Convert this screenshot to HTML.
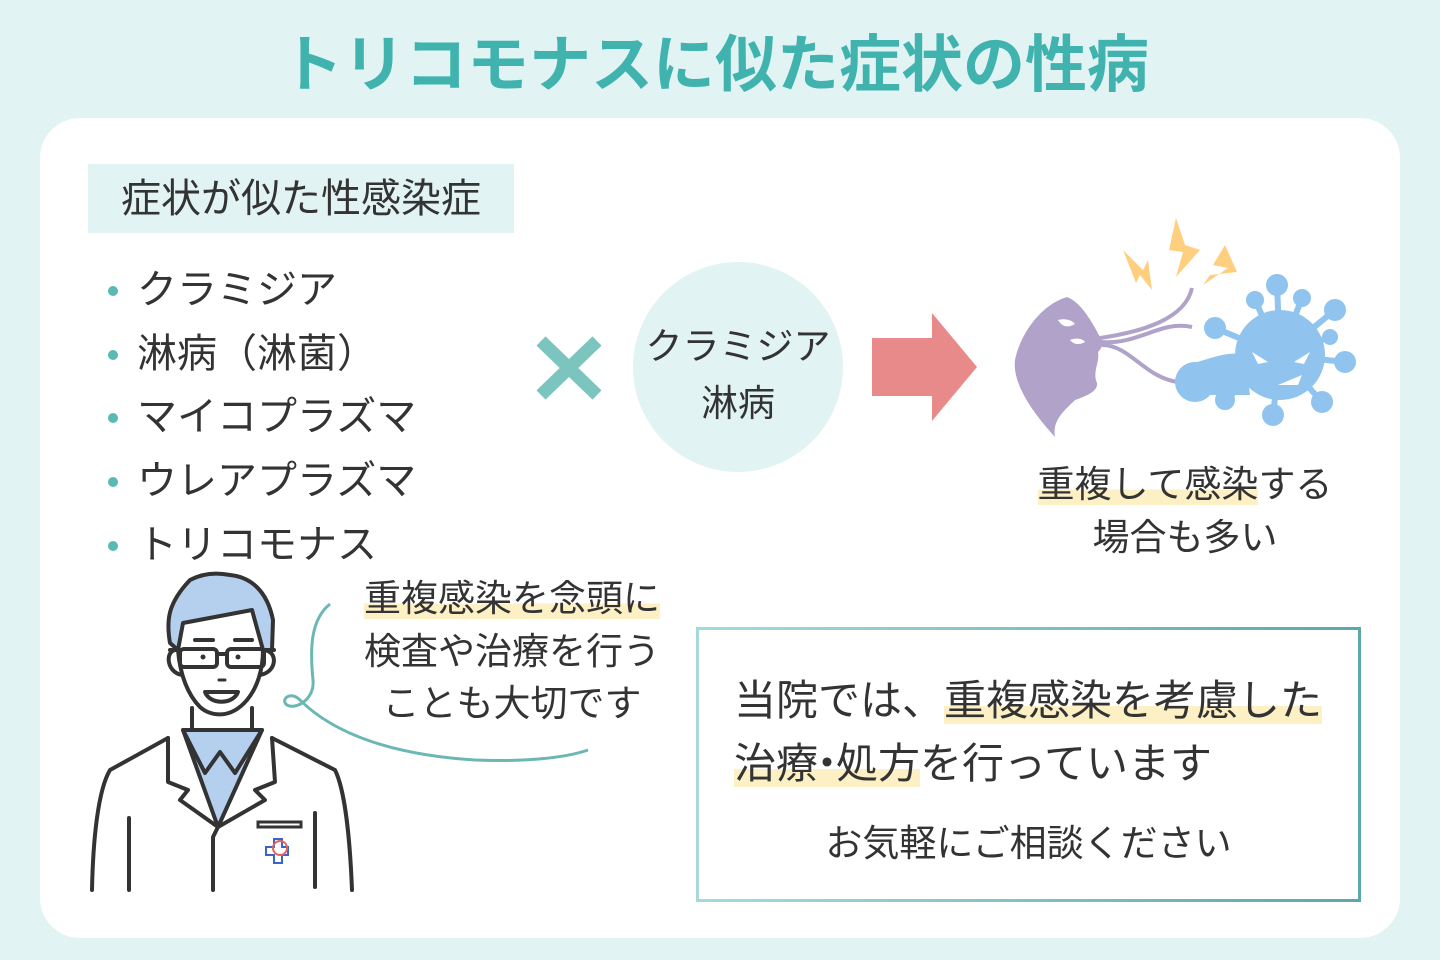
<!DOCTYPE html>
<html><head><meta charset="utf-8"><style>
*{margin:0;padding:0;box-sizing:border-box}
body{width:1440px;height:960px;background:#e2f3f3;position:relative;overflow:hidden;font-family:"Liberation Sans","Noto Sans CJK JP",sans-serif;color:#333}
.a{position:absolute;white-space:nowrap}
.hl{background:linear-gradient(transparent 62%,#fdf0c4 62%)}
.li{position:relative;padding-left:32px}
.li:before{content:"";position:absolute;left:3px;top:27px;width:10px;height:10px;border-radius:50%;background:#5bb8b5}
</style></head><body>
<div class="a" style="left:0;width:1430px;top:26px;text-align:center;font-size:62px;font-weight:bold;color:#40b3ae;line-height:80px">トリコモナスに似た症状の性病</div>
<div class="a" style="left:40px;top:118px;width:1360px;height:820px;background:#fff;border-radius:40px"></div>
<div class="a" style="left:88px;top:164px;width:426px;height:69px;background:#e2f3f3"></div>
<div class="a" style="left:121px;top:173px;font-size:40px;line-height:52px">症状が似た性感染症</div>
<div class="a" style="left:105px;top:259px;font-size:40px;line-height:63.7px">
<div class="li">クラミジア</div>
<div class="li">淋病（淋菌）</div>
<div class="li">マイコプラズマ</div>
<div class="li">ウレアプラズマ</div>
<div class="li">トリコモナス</div>
</div>
<svg class="a" style="left:535px;top:335px" width="68" height="66"><path d="M6 6L62 60M62 6L6 60" stroke="#7cc5bf" stroke-width="13"/></svg>
<div class="a" style="left:633px;top:262px;width:210px;height:210px;border-radius:50%;background:#e2f3f3"></div>
<div class="a" style="left:633px;top:318px;width:210px;text-align:center;font-size:37px;line-height:57px">クラミジア<br>淋病</div>
<svg class="a" style="left:870px;top:312px" width="110" height="112"><path d="M2 26H62V1L107 55L62 109V84H2Z" fill="#e88a8a"/></svg>
<svg class="a" style="left:0;top:0" width="1440" height="960">
<path d="M1123 250L1143 270L1148 260L1152 290L1140 275L1136 283Z" fill="#ffcf80"/>
<path d="M1176 218L1185 245L1200 250L1176 277L1183 252L1169 250Z" fill="#ffcf80"/>
<path d="M1225 245L1213 265L1228 268L1203 285L1210 275L1237 272Z" fill="#ffcf80"/>
<path d="M1067 297C1040 305 1020 335 1015 360C1012 385 1035 415 1055 437C1052 420 1065 410 1075 400C1090 395 1098 390 1097 383C1092 372 1100 362 1098 352C1105 345 1102 340 1100 337C1090 318 1080 302 1067 297Z" fill="#b0a2c8"/>
<path d="M1058 320C1065 318 1072 320 1075 324C1068 328 1062 327 1058 320Z M1070 340C1075 338 1082 338 1085 342C1080 345 1074 345 1070 340Z" fill="#fff"/>
<path d="M1100 338C1140 332 1185 320 1192 288M1100 342C1140 345 1160 320 1192 327M1102 345C1130 345 1145 378 1178 382" stroke="#b0a2c8" stroke-width="4" fill="none"/>
<g fill="#90c4ee" stroke="#90c4ee" stroke-width="6">
<circle cx="1280" cy="355" r="45" stroke="none"/>
<circle cx="1195" cy="382" r="20" stroke="none"/>
<path d="M1185 365C1210 360 1225 350 1245 355L1250 395L1210 395Z" stroke="none"/>
<line x1="1280" y1="355" x2="1277" y2="285"/><circle cx="1277" cy="285" r="8"/>
<line x1="1280" y1="355" x2="1335" y2="310"/><circle cx="1335" cy="310" r="8"/>
<line x1="1280" y1="355" x2="1345" y2="362"/><circle cx="1345" cy="362" r="8"/>
<line x1="1280" y1="355" x2="1322" y2="402"/><circle cx="1322" cy="402" r="8"/>
<line x1="1280" y1="355" x2="1273" y2="415"/><circle cx="1273" cy="415" r="8"/>
<line x1="1280" y1="355" x2="1225" y2="400"/><circle cx="1225" cy="400" r="7"/>
<line x1="1280" y1="355" x2="1215" y2="328"/><circle cx="1215" cy="328" r="8"/>
<line x1="1280" y1="355" x2="1255" y2="300"/><circle cx="1255" cy="300" r="6"/>
<line x1="1280" y1="355" x2="1302" y2="298"/><circle cx="1302" cy="298" r="6"/>
<line x1="1280" y1="355" x2="1330" y2="337"/><circle cx="1330" cy="337" r="5"/>
</g>
<path d="M1252 352L1268 362L1258 364Z M1310 352L1294 362L1304 364Z M1278 385L1302 375L1298 385Z" fill="#fff"/>
<path d="M330 604C310 620 310 650 313 680C315 700 295 710 287 705C280 700 290 690 300 700C335 735 395 755 475 760C525 762 565 758 588 750" stroke="#6bb7b4" stroke-width="3" fill="none"/>
<g stroke="#333" stroke-width="4" fill="none" stroke-linejoin="round" stroke-linecap="round">
<path d="M92 890C93 840 98 790 110 770L168 738M352 890C350 840 345 790 335 770L272 738"/>
<path d="M183 730L218 827L262 730Z" fill="#b5cfee"/>
<path d="M183 730L205 773L220 752L235 773L262 730"/>
<path d="M168 738L168 782L188 790L180 800L218 827L265 800L255 790L275 782L272 738"/>
<path d="M218 827L213 837V890M129 818V890M315 813V887"/>
<path d="M192 708V730M252 708V730"/>
<path d="M170 643C166 620 168 603 190 580C205 572 220 573 230 575C250 577 267 590 273 620L272 650L263 650L252 610L183 623L178 650Z" fill="#b5cfee"/>
<path d="M178 650C180 675 188 695 200 707C210 716 230 720 247 700C257 688 263 670 263 650"/>
<path d="M178 650C165 648 165 672 182 675M263 650C278 650 278 672 260 675"/>
<path d="M195 640H213M235 640H252"/>
<rect x="180" y="649" width="37" height="18" rx="4"/><rect x="227" y="649" width="37" height="18" rx="4"/>
<path d="M217 654H227M170 650H180M264 650H274"/>
<path d="M205 692C210 705 233 705 238 692Z"/>
</g>
<circle cx="203" cy="657" r="2.5" fill="#333"/><circle cx="238" cy="657" r="2.5" fill="#333"/>
<path d="M219 680h6" stroke="#333" stroke-width="3" stroke-linecap="round"/>
<rect x="258" y="822" width="43" height="5" fill="none" stroke="#333" stroke-width="3"/>
<path d="M266 847h8v-8h8v8h6v8h-6v8h-8v-8h-8z" fill="none" stroke="#3b63d0" stroke-width="2"/>
<circle cx="280" cy="848" r="7" fill="none" stroke="#e86060" stroke-width="2"/>
</svg>
<div class="a" style="left:1000px;width:370px;top:458px;text-align:center;font-size:37px;line-height:53px"><span class="hl">重複して感染</span>する<br>場合も多い</div>
<div class="a" style="left:332px;width:360px;top:573px;text-align:center;font-size:37px;line-height:52.5px"><span class="hl">重複感染を念頭に</span><br>検査や治療を行う<br>ことも大切です</div>
<div class="a" style="left:696px;top:627px;width:665px;height:275px;padding:3px;background:linear-gradient(90deg,#a6dada,#5aa8a7)"><div style="width:100%;height:100%;background:#fff"></div></div>
<div class="a" style="left:734px;top:669px;font-size:42px;line-height:63px">当院では、<span class="hl">重複感染を考慮した</span><br><span class="hl">治療<span style="margin:0 -12px">・</span>処方</span>を行っています</div>
<div class="a" style="left:697px;width:663px;top:818px;text-align:center;font-size:37px;line-height:52px">お気軽にご相談ください</div>
</body></html>
